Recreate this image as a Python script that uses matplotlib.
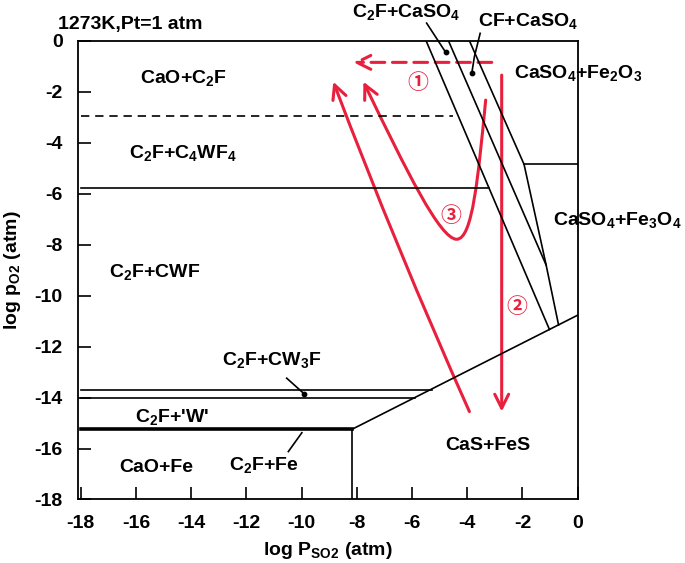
import numpy as np
import matplotlib
matplotlib.use('Agg')
import matplotlib.pyplot as plt
from matplotlib.patches import FancyArrowPatch
from matplotlib.path import Path

plt.rcParams['font.family'] = ['Liberation Sans', 'DejaVu Sans']
plt.rcParams['font.weight'] = 'bold'
plt.rcParams['axes.labelweight'] = 'bold'
plt.rcParams['font.size'] = 14
plt.rcParams['mathtext.default'] = 'regular'
plt.rcParams['axes.unicode_minus'] = False

RED = '#e8203d'

# axes ticks
xticks = list(range(-18, 1, 2))
yticks = list(range(-18, 1, 2))

# phase boundaries (log pSO2, log pO2)
dash_x, dash_y = [-18, -4.5], [-2.95, -2.95]
c4wf4_x, c4wf4_y = [-18, -3.2], [-5.78, -5.78]
cw3f_top_x, cw3f_top_y = [-18, -5.28], [-13.7, -13.7]
cw3f_bot_x, cw3f_bot_y = [-18, -5.89], [-14.0, -14.0]
wfe_x, wfe_y = [-18, -8.18], [-15.25, -15.25]
vfe_x, vfe_y = [-8.18, -8.18], [-18, -15.25]
cas_x, cas_y = [-8.18, 0], [-15.25, -10.77]
line1_x, line1_y = [-5.49, -1.02], [0, -11.33]
line2_x, line2_y = [-4.68, -1.14, -0.69], [0, -8.80, -11.15]
line3_x, line3_y = [-3.92, -1.94, -1.14], [0, -4.85, -8.80]
fe3o4_x, fe3o4_y = [-1.94, 0], [-4.85, -4.85]

# pointer lines of small fields
ptr_c2f_caso4 = ([-5.47, -4.78], [0.69, -0.455])
ptr_cf_caso4 = ([-3.53, -3.74, -3.83], [0.29, -0.63, -1.25])
ptr_cw3f = ([-10.54, -9.90], [-13.24, -13.86])
ptr_c2f_fe = ([-9.99, -10.48], [-15.38, -16.12])
dots_x = [-4.78, -3.83, -9.90]
dots_y = [-0.455, -1.25, -13.86]

# field labels
labels = [
    ('CaO+C$_2$F', -14.28, -1.46),
    ('C$_2$F+C$_4$WF$_4$', -14.31, -4.41),
    ('C$_2$F+CWF', -15.31, -9.07),
    ('C$_2$F+CW$_3$F', -11.07, -12.53),
    ("C$_2$F+'W'", -14.69, -14.76),
    ('CaO+Fe', -15.27, -16.76),
    ('C$_2$F+Fe', -11.38, -16.65),
    ('CaS+FeS', -3.24, -15.9),
    ('C$_2$F+CaSO$_4$', -6.21, 1.13),
    ('CF+CaSO$_4$', -1.81, 0.77),
    ('CaSO$_4$+Fe$_2$O$_3$', 0.02, -1.27),
    ('CaSO$_4$+Fe$_3$O$_4$', 1.43, -7.03),
]

# red process paths
path1 = ((-3.11, -0.85), (-8.12, -0.85))
path2 = ((-2.75, -1.35), (-2.75, -14.55))
path_left = ((-3.92, -14.55), (-8.85, -1.61))
path3_pts = [(-3.33, -2.33), (-3.6, -5.3), (-3.8, -7.79), (-4.38, -7.79),
             (-4.98, -7.79), (-6.2, -5.11), (-7.76, -1.61)]
nums = [('①', -5.80, -1.63), ('②', -2.20, -10.44), ('③', -4.59, -6.84)]

fig = plt.figure(figsize=(6.85, 5.63), dpi=100)
ax = fig.add_axes([0.1139, 0.1128, 0.7293, 0.8149])
ax.set_xlim(-18.1, 0)
ax.set_ylim(-18, 0)
ax.set_xticks(xticks)
ax.set_yticks(yticks)
ax.set_xticklabels([str(v) for v in xticks], fontweight='bold')
ax.set_yticklabels([str(v) for v in yticks], fontweight='bold')
ax.tick_params(direction='in', length=9, width=1.2, pad=11, labelsize=14)
for s in ax.spines.values():
    s.set_linewidth(1.3)
ax.set_xlabel('log P$_{SO2}$ (atm)', fontsize=14, fontweight='bold', labelpad=6)
ax.set_ylabel('log p$_{O2}$ (atm)', fontsize=14, fontweight='bold', labelpad=8)

kw = dict(color='black', lw=1.2)
ax.plot(dash_x, dash_y, ls=(0, (5, 3.5)), **kw)
for xs, ys in [(c4wf4_x, c4wf4_y), (cw3f_top_x, cw3f_top_y), (cw3f_bot_x, cw3f_bot_y),
               (vfe_x, vfe_y), (cas_x, cas_y), (line1_x, line1_y), (line2_x, line2_y),
               (line3_x, line3_y), (fe3o4_x, fe3o4_y)]:
    ax.plot(xs, ys, **kw)
ax.plot(wfe_x, wfe_y, color='black', lw=2.6)

for xs, ys in [ptr_c2f_caso4, ptr_cf_caso4, ptr_cw3f, ptr_c2f_fe]:
    ax.plot(xs, ys, color='black', lw=1.2, clip_on=False)
ax.scatter(dots_x, dots_y, s=10, color='black', zorder=4)

for txt, x, y in labels:
    ax.text(x, y, txt, ha='center', va='center', fontsize=14, fontweight='bold')
ax.text(-18.82, 0.62, '1273K,Pt=1 atm', ha='left', va='center', fontsize=14, fontweight='bold')

astyle = '->,head_length=10,head_width=5'
ax.add_patch(FancyArrowPatch(path1[0], path1[1], arrowstyle=astyle, mutation_scale=1,
                             color=RED, lw=2.2, ls=(0, (4.5, 2.5)), shrinkA=0, shrinkB=0))
ax.add_patch(FancyArrowPatch(path2[0], path2[1], arrowstyle=astyle, mutation_scale=1,
                             color=RED, lw=2.2, shrinkA=0, shrinkB=0))
ax.add_patch(FancyArrowPatch(path_left[0], path_left[1], arrowstyle=astyle, mutation_scale=1,
                             connectionstyle='arc3,rad=-0.015',
                             color=RED, lw=2.2, shrinkA=0, shrinkB=0))
codes = [Path.MOVETO] + [Path.CURVE4] * 6
ax.add_patch(FancyArrowPatch(path=Path(path3_pts, codes), arrowstyle=astyle, mutation_scale=1,
                             color=RED, lw=2.2, shrinkA=0, shrinkB=0))
for t, x, y in nums:
    ax.text(x, y, t, ha='center', va='center', color=RED, fontsize=15,
            family=['Noto Sans CJK SC', 'DejaVu Sans'], fontweight='bold')

fig.savefig('out.png', dpi=100)
